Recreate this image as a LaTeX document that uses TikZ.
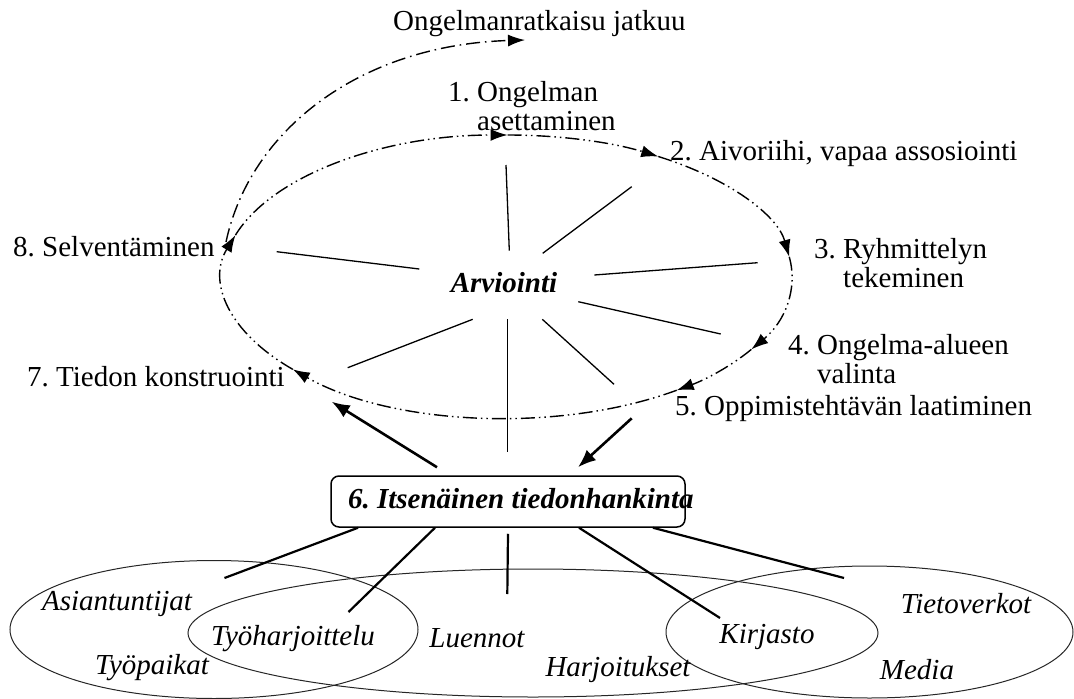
\documentclass[tikz,border=0pt]{standalone}
\usepackage{fontspec}
\setmainfont{Liberation Serif}
\frenchspacing
\usetikzlibrary{arrows.meta}
\tikzset{
  lbl/.style={inner sep=0pt,anchor=west,align=left,font=\fontsize{29}{29}\selectfont},
  src/.style={inner sep=0pt,font=\fontsize{29}{29}\selectfont\itshape},
  cyc/.style={line width=1.4pt,dash pattern=on 14pt off 4pt on 1.5pt off 4pt on 1.5pt off 4pt,
    -{Latex[length=17pt,width=12pt]}},
  cont/.style={line width=1.4pt,dash pattern=on 14pt off 5pt on 1.5pt off 5pt,
    -{Latex[length=17pt,width=12pt]}},
  spoke/.style={line width=1.3pt},
  tie/.style={line width=2.2pt},
  flow/.style={line width=2.6pt,-{Latex[length=18pt,width=14pt]}},
  ring/.style={line width=1pt,black!85},
}
\begin{document}
\begin{tikzpicture}[x=1pt,y=-1pt]
  \useasboundingbox (0,0) rectangle (1074,699);
  % sources
  \draw[ring] (214,629.5) ellipse [x radius=204, y radius=69];
  \draw[ring] (533,633) ellipse [x radius=345, y radius=64];
  \draw[ring] (869.5,632) ellipse [x radius=203.5, y radius=66];
  \draw
    (117,604) node[src] (asi) {Asiantuntijat}
    (293,639) node[src] (tyh) {Työharjoittelu}
    (477,638) node[src] (lue) {Luennot}
    (152,668) node[src] (typ) {Työpaikat}
    (618,670) node[src] (har) {Harjoitukset}
    (767,637) node[src] (kir) {Kirjasto}
    (966,604) node[src] (tie) {Tietoverkot}
    (917,670) node[src] (med) {Media};
  % steps
  \draw
    (393,24) node[lbl] (ratk) {Ongelmanratkaisu jatkuu}
    (448,106) node[lbl] (l1) {1. Ongelman\\\phantom{1. }asettaminen}
    (670,154) node[lbl] (l2) {2. Aivoriihi, vapaa assosiointi}
    (814,263) node[lbl] (l3) {3. Ryhmittelyn\\\phantom{3. }tekeminen}
    (788,359) node[lbl] (l4) {4. Ongelma-alueen\\\phantom{4. }valinta}
    (675,409) node[lbl] (l5) {5. Oppimistehtävän laatiminen}
    (27,377) node[lbl] (l7) {7. Tiedon konstruointi}
    (13,247) node[lbl] (l8) {8. Selventäminen};
  \node[font=\fontsize{29}{29}\selectfont\bfseries\itshape] (arv) at (504,283) {Arviointi};
  \node[draw,rounded corners=8pt,line width=1.5pt,minimum width=354pt,minimum height=51pt,
    inner xsep=17pt,inner ysep=0pt,text depth=7pt,
    font=\fontsize{29}{29}\selectfont\bfseries\itshape] (itse) at (508,501.5)
    {\makebox[320pt][l]{6. Itsenäinen tiedonhankinta}};
  % cycle
  \coordinate (ec) at (507.5,276.5);
  \draw[cyc] ([shift={(-163:284.5 and 141.5)}]ec) arc[start angle=-163,end angle=-90,x radius=284.5,y radius=141.5];
  \draw[cyc] ([shift={(-90:284.5 and 141.5)}]ec) arc[start angle=-90,end angle=-58,x radius=284.5,y radius=141.5];
  \draw[cyc] ([shift={(-58:284.5 and 141.5)}]ec) arc[start angle=-58,end angle=-8,x radius=284.5,y radius=141.5];
  \draw[cyc] ([shift={(-8:284.5 and 141.5)}]ec) arc[start angle=-8,end angle=31,x radius=284.5,y radius=141.5];
  \draw[cyc] ([shift={(31:284.5 and 141.5)}]ec) arc[start angle=31,end angle=53.5,x radius=284.5,y radius=141.5];
  \draw[cyc] ([shift={(53.5:284.5 and 141.5)}]ec) arc[start angle=53.5,end angle=139,x radius=284.5,y radius=141.5];
  \draw[cyc] ([shift={(139:284.5 and 141.5)}]ec) arc[start angle=139,end angle=197,x radius=284.5,y radius=141.5];
  \coordinate (c0) at (226,242);
  \coordinate (c1) at (525,40);
  \draw[cont] (c0) .. controls (250,130) and (360,45) .. (c1);
  % spokes
  \path
    (509.3,250.7) coordinate (a0) (506,165) coordinate (b0)
    (542.7,253.3) coordinate (a1) (631.7,186.7) coordinate (b1)
    (419.3,269) coordinate (a2) (276.7,251.7) coordinate (b2)
    (594.3,275) coordinate (a3) (757.7,262.7) coordinate (b3)
    (578.3,301.7) coordinate (a4) (720.7,334) coordinate (b4)
    (542.3,319.3) coordinate (a5) (614,384.3) coordinate (b5)
    (507.3,319.3) coordinate (a6) (507.3,452) coordinate (b6)
    (472.7,319.3) coordinate (a7) (347.7,367.7) coordinate (b7);
  \begin{scope}[spoke]
    \draw (a0) to (b0);
    \draw (a1) to (b1);
    \draw (a2) to (b2);
    \draw (a3) to (b3);
    \draw (a4) to (b4);
    \draw (a5) to (b5);
    \draw (a6) to (b6);
    \draw (a7) to (b7);
  \end{scope}
  % box links
  \coordinate (k7) at (331.7,401.7);
  \coordinate (k5) at (631.7,418.3);
  \draw[flow] ([shift={(-71,-8)}]itse.north) to (k7);
  \draw[flow] (k5) to ([shift={(70,-8)}]itse.north);
  \path
    (224.5,578) coordinate (t0)
    (348.5,612) coordinate (t1)
    (507.3,594) coordinate (t2)
    (720,618) coordinate (t3)
    (844,578) coordinate (t4);
  \begin{scope}[tie]
    \draw ([xshift=-150pt]itse.south) to (t0);
    \draw ([xshift=-73pt]itse.south) to (t1);
    \draw ([yshift=-6pt]itse.south) to (t2);
    \draw ([xshift=71pt]itse.south) to (t3);
    \draw ([xshift=145pt]itse.south) to (t4);
  \end{scope}
\end{tikzpicture}
\end{document}
